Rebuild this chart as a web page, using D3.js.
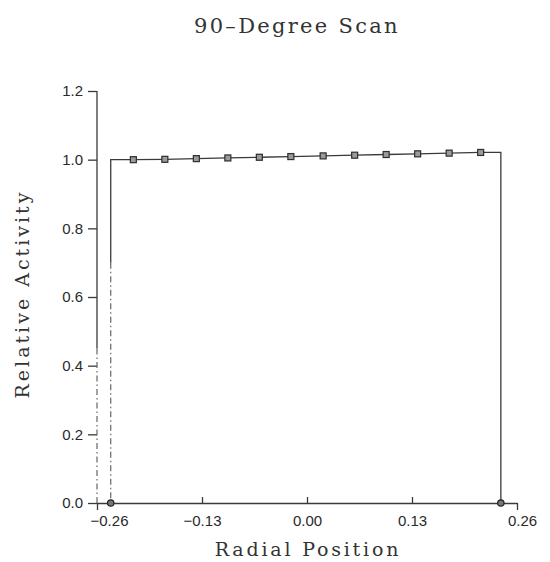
<!DOCTYPE html>
<html><head><meta charset="utf-8">
<script src="https://cdn.jsdelivr.net/npm/d3@7"></script>
<style>html,body{margin:0;padding:0;background:#fff;}svg{display:block;}</style>
</head><body>
<svg id="chart" width="550" height="562"></svg>
<script>
// ---- data ----
const scanX = [-0.243, -0.243, -0.215, -0.176, -0.137, -0.098, -0.059, -0.020, 0.020, 0.059, 0.098, 0.137, 0.176, 0.215, 0.240, 0.240];
const activity = [0.0, 1.000, 1.000, 1.001, 1.003, 1.005, 1.007, 1.009, 1.011, 1.013, 1.015, 1.017, 1.019, 1.021, 1.021, 0.0];
const markerType = ["circle", "none", "square", "square", "square", "square", "square", "square", "square", "square", "square", "square", "square", "square", "none", "circle"];
const xTicks = [-0.26, -0.13, 0.00, 0.13, 0.26];
const xTickLabels = ["\u22120.26", "\u22120.13", "0.00", "0.13", "0.26"];
const yTicks = [0.0, 0.2, 0.4, 0.6, 0.8, 1.0, 1.2];
const yTickLabels = ["0.0", "0.2", "0.4", "0.6", "0.8", "1.0", "1.2"];
const titleText = "90\u2013Degree Scan";
const xTitle = "Radial Position";
const yTitle = "Relative Activity";

const svg = d3.select("#chart");
const ink = "#3a3a3a";
const x = d3.scaleLinear().domain([-0.26, 0.26]).range([97, 517]);
const y = d3.scaleLinear().domain([0, 1.2]).range([503, 91]);
const axisX = x(-0.26);

// title
svg.append("text").attr("x", 297).attr("y", 33).attr("text-anchor", "middle")
  .attr("font-family", "DejaVu Serif").attr("font-size", 21).attr("letter-spacing", 2.3)
  .attr("fill", "#333").text(titleText);

// y axis (ticks + labels)
const yAxis = d3.axisLeft(y).tickValues(yTicks).tickFormat((d, i) => yTickLabels[i]).tickSize(9).tickPadding(5).tickSizeOuter(0);
const gy = svg.append("g").attr("transform", `translate(${axisX},0)`).call(yAxis);
gy.select(".domain").remove();
gy.selectAll(".tick line").attr("stroke", ink).attr("stroke-width", 1.3);
gy.selectAll(".tick text").attr("font-family", "Liberation Sans").attr("font-size", 15).attr("fill", "#2a2a2a");

// y axis line: solid upper part, broken lower part (as printed)
svg.append("line").attr("x1", axisX).attr("x2", axisX).attr("y1", y(1.2)).attr("y2", y(0.45))
  .attr("stroke", ink).attr("stroke-width", 1.3);
svg.append("line").attr("x1", axisX).attr("x2", axisX).attr("y1", y(0.45)).attr("y2", y(0))
  .attr("stroke", "#666").attr("stroke-width", 1.2).attr("stroke-dasharray", "6,3,1.5,3");

// x axis
const xAxis = d3.axisBottom(x).tickValues(xTicks).tickFormat((d, i) => xTickLabels[i]).tickSize(-6).tickPadding(12).tickSizeOuter(0);
const gx = svg.append("g").attr("transform", `translate(0,${y(0)})`).call(xAxis);
gx.select(".domain").attr("stroke", ink).attr("stroke-width", 1.3);
gx.selectAll(".tick line").attr("stroke", ink).attr("stroke-width", 1.3)
  .attr("y2", d => (d === -0.26 || d === 0.26) ? 7 : -6);
gx.selectAll(".tick text").attr("font-family", "Liberation Sans").attr("font-size", 15).attr("fill", "#2a2a2a")
  .attr("dx", d => d === -0.26 ? 12 : (d === 0.26 ? 5 : 0));

// axis titles
svg.append("text").attr("x", 308).attr("y", 556).attr("text-anchor", "middle")
  .attr("font-family", "DejaVu Serif").attr("font-size", 19).attr("letter-spacing", 2.8)
  .attr("fill", "#333").text(xTitle);
svg.append("text").attr("transform", "translate(29,294) rotate(-90)").attr("text-anchor", "middle")
  .attr("font-family", "DejaVu Serif").attr("font-size", 19).attr("letter-spacing", 3.0)
  .attr("fill", "#333").text(yTitle);

// data line
const pts = scanX.map((v, i) => ({x: v, y: activity[i], m: markerType[i]}));
// left rising edge: solid upper, broken lower
svg.append("line").attr("x1", x(pts[0].x)).attr("x2", x(pts[1].x)).attr("y1", y(0.7)).attr("y2", y(pts[0].y))
  .attr("stroke", "#666").attr("stroke-width", 1.2).attr("stroke-dasharray", "6,3,1.5,3");
const line = d3.line().x(d => x(d.x)).y(d => d.y === 0 && d === pts[0] ? y(0.7) : y(d.y));
svg.append("path").datum(pts).attr("d", line).attr("fill", "none")
  .attr("stroke", ink).attr("stroke-width", 1.3);

// markers
svg.selectAll("rect.mk").data(pts.filter(d => d.m === "square")).enter().append("rect")
  .attr("class", "mk").attr("x", d => x(d.x) - 3).attr("y", d => y(d.y) - 3)
  .attr("width", 6).attr("height", 6).attr("fill", "#9a9a9a").attr("stroke", "#2e2e2e").attr("stroke-width", 1.2);
svg.selectAll("circle.mk").data(pts.filter(d => d.m === "circle")).enter().append("circle")
  .attr("class", "mk").attr("cx", d => x(d.x)).attr("cy", d => y(d.y)).attr("r", 3.2)
  .attr("fill", "#777").attr("stroke", "#222").attr("stroke-width", 1.2);
</script>
</body></html>
